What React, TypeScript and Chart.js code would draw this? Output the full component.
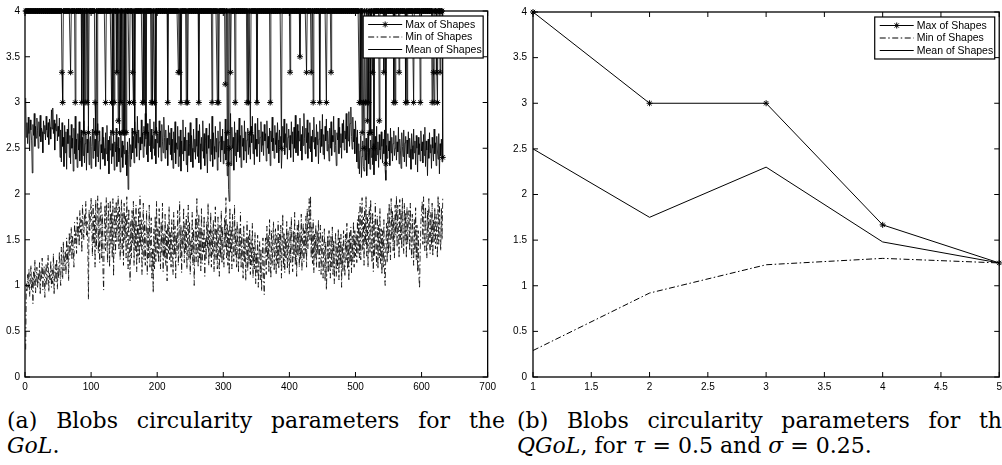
import React, { useEffect, useRef } from "react";
import { Chart, registerables } from "chart.js";

Chart.register(...registerables);

// ---------- Panel (a): GoL, one value per frame ----------
const maxShapesA: number[] = [
  4,4,4,4,4,4,4,4,4,4,4,4,4,4,4,4,4,4,4,4,
  4,4,4,4,4,4,4,4,4,4,4,4,4,4,4,4,4,4,4,4,
  4,4,4,4,4,4,4,4,4,4,4,4,4,4,4,3.33,3,4,4,4,
  4,4,4,4,4,4,4,4,3.33,4,4,4,4,4,4,3,4,4,4,4,
  4,4,4,4,4,3,4,4,2.67,4,3,4,4,3,4,2.67,4,4,4,4,
  4,4,4,4,4,3,2.67,4,2.67,4,4,4,4,4,4,4,4,4,4,4,
  4,3,4,4,4,4,4,4,4,4,3,4,2.67,4,3,4,4,4,3.33,4,
  2.8,4,2.67,4,3,4,2.67,4,2.67,4,2.67,4,2.67,4,4,4,4,3,4,4,
  4,4,3.33,3,4,2.67,4,4,4,4,4,4,4,4,4,4,4,3,4,3,
  4,4,2.67,4,4,4,4,4,4,4,3,4,3,4,4,3,4,2.67,4,4,
  4,4,4,4,4,4,4,4,4,4,4,4,4,4,4,3,4,4,4,4,
  4,4,4,4,4,4,4,4,4,4,4,3.33,4,3.33,4,3,4,4,4,4,
  4,4,4,3,4,3,4,4,4,4,4,4,4,4,4,4,4,4,4,4,
  4,4,3,4,4,4,4,4,4,4,4,4,4,4,4,4,4,4,4,4,
  4,4,3,4,4,4,4,4,4,4,3,4,3,4,4,4,4,4,4,4,
  4,4,3.2,4,4,2.67,4,2.33,2.5,4,3.33,4,4,4,4,4,4,3,4,4,
  4,4,4,4,4,4,4,4,4,4,4,4,4,4,4,3,4,3,4,4,
  2.67,4,4,4,4,4,4,4,4,4,3,4,4,4,4,4,4,4,4,4,
  4,4,4,4,4,4,4,4,4,4,3,4,4,4,4,4,4,4,4,4,
  4,4,4,4,4,4,4,2.5,4,4,4,4,4,4,4,4,4,4,4,4,
  3.33,4,4,4,4,4,4,4,4,4,4,4,4,4,4,3.5,4,4,4,4,
  4,4,4,4,4,3.33,4,4,4,4,4,4,3.33,4,4,3,4,4,4,4,
  4,4,4,4,4,3,4,4,4,4,4,4,4,4,4,3,4,4,4,4,
  4,4,3.33,4,4,4,4,4,4,4,4,4,4,4,4,4,4,4,4,4,
  4,4,4,4,4,4,4,4,4,4,4,4,4,4,4,4,4,4,4,4,
  4,4,4,4,4,3,4,3,4,2.67,4,3,2.5,4,3,3,4,2.8,4,3,
  2.67,4,2.67,4,4,3.33,4,2.5,4,4,4,4,4,4,4,2.8,4,4,4,4,
  4,4,3.33,4,4,2.33,4,4,4,4,4,4,4,4,4,4,4,3,4,3,
  4,4,4,4,4,3.33,4,4,4,4,4,4,4,4,4,3,4,3,4,4,
  4,4,4,4,4,4,4,3,4,4,4,4,4,4,4,4,4,3,4,4,
  4,4,4,4,4,4,4,4,4,4,4,4,4,4,4,3,4,3.33,3,4,
  4,4,3.33,3,4,4,4,3.33,4,4,4,2.4,
];

const minShapesA: number[] = [
  0.3,1.02,0.93,1.12,0.98,1.18,0.88,1.05,1.22,0.95,1.1,0.8,1.15,1.0,1.28,0.92,1.08,1.2,0.97,1.13,
  1.03,1.25,0.9,1.16,1.07,1.3,0.95,1.12,1.21,0.87,1.09,1.24,1.0,1.18,1.33,0.93,1.14,1.06,1.27,0.98,
  1.17,1.02,1.35,0.9,1.11,1.23,1.04,1.29,0.96,1.19,1.08,1.37,1.13,1.0,1.42,1.21,1.07,1.48,1.16,1.3,
  1.38,1.12,1.52,1.25,1.44,1.05,1.58,1.33,1.47,1.64,1.28,1.55,1.4,1.2,1.69,1.46,1.6,1.35,1.75,1.52,
  1.66,1.43,1.82,1.58,1.72,1.36,1.88,1.62,1.5,1.78,1.65,1.92,1.55,1.7,1.45,0.85,1.83,1.6,1.74,1.96,
  1.68,1.32,1.88,1.45,1.77,1.2,1.94,1.4,1.72,1.98,1.35,1.85,1.25,1.69,1.92,1.3,1.78,1.15,0.95,1.64,
  1.88,1.38,1.96,1.5,1.25,1.9,1.6,1.2,1.93,1.45,1.8,1.3,1.95,1.1,1.62,1.85,1.35,1.92,1.48,1.75,
  1.98,1.4,1.86,1.28,1.72,1.94,1.36,1.8,1.22,1.9,1.5,1.76,1.3,1.97,1.58,1.18,1.84,1.4,1.05,1.7,
  1.3,1.82,1.45,1.92,1.22,1.75,1.38,1.88,1.15,1.66,1.32,1.84,1.25,1.98,1.42,1.72,1.12,1.6,1.9,1.28,
  1.7,1.22,1.55,1.82,1.12,1.64,1.3,1.88,1.2,1.52,1.74,1.08,1.4,0.92,1.62,1.18,1.76,1.26,1.92,1.35,
  1.62,1.25,1.84,1.4,1.18,1.7,1.36,1.9,1.15,1.57,1.3,1.78,1.22,1.6,1.05,1.68,1.35,1.86,1.28,1.58,
  1.2,1.72,1.45,1.12,1.8,1.33,1.65,1.08,1.55,1.38,1.82,1.22,1.52,1.92,1.3,1.66,1.14,1.6,1.4,1.85,
  1.25,1.68,1.36,1.76,1.18,1.55,1.88,1.28,1.7,1.12,1.5,1.32,1.8,1.22,1.62,1.0,1.42,1.74,1.26,1.95,
  1.48,1.2,1.78,1.3,1.64,1.16,1.84,1.24,1.58,1.35,1.76,1.1,1.52,1.28,1.7,1.4,1.9,1.22,1.6,1.32,
  1.8,1.2,1.6,1.34,1.72,1.15,1.5,1.86,1.28,1.62,1.18,1.75,1.38,1.1,1.66,1.3,1.82,1.24,1.64,1.36,
  1.2,1.74,1.42,1.96,1.3,1.68,1.22,1.6,1.12,1.85,1.35,1.64,1.18,1.78,1.4,1.26,1.88,1.32,1.62,1.2,
  1.7,1.36,1.14,1.62,1.28,1.8,1.2,1.56,1.34,1.08,1.66,1.25,1.52,1.05,1.4,1.7,1.16,1.55,1.24,1.62,
  1.12,1.5,1.22,1.68,1.08,1.42,1.18,1.58,1.02,1.36,1.14,1.55,0.98,1.32,1.48,1.06,1.4,0.94,1.26,1.52,
  1.05,0.9,1.34,1.52,1.12,1.65,1.28,1.56,1.14,1.72,1.3,1.08,1.6,1.22,1.5,1.7,1.16,1.46,1.62,1.12,
  1.55,1.24,1.7,1.18,1.56,1.28,1.66,1.08,1.44,1.78,1.2,1.58,1.14,1.52,1.3,1.7,1.18,1.6,1.36,1.12,
  1.64,1.25,1.75,1.36,1.15,1.6,1.3,1.8,1.22,1.55,1.1,1.66,1.32,1.72,1.2,1.58,1.28,1.78,1.16,1.52,
  1.68,1.26,1.6,1.35,1.76,1.2,1.84,1.4,1.62,1.95,1.5,1.98,1.3,1.64,1.24,1.72,1.14,1.56,1.3,1.66,
  1.2,1.6,1.34,1.72,1.16,1.5,1.66,1.12,1.44,1.58,1.08,1.42,1.62,1.05,1.48,0.95,1.22,1.55,1.14,1.6,
  1.26,1.08,1.55,1.2,1.64,1.12,1.5,1.02,1.42,1.58,1.1,1.46,1.18,1.62,1.06,1.52,1.22,1.56,0.98,1.45,
  1.15,1.6,1.24,1.1,1.56,1.28,1.68,1.18,1.5,1.05,1.58,1.25,1.64,1.14,1.54,1.26,1.7,1.2,1.6,1.32,
  1.56,1.25,1.72,1.35,1.8,1.3,1.9,1.28,1.66,1.96,1.38,1.75,1.22,1.85,1.45,1.98,1.32,1.78,1.2,1.7,
  1.86,1.35,1.94,1.48,1.25,1.8,1.15,1.7,1.32,1.9,1.45,1.22,1.76,1.18,1.66,1.3,1.84,1.24,1.62,1.12,
  1.6,1.2,1.72,1.08,1.0,1.42,1.68,1.25,1.8,1.35,1.9,1.45,1.28,1.95,1.5,1.82,1.38,1.74,1.3,1.88,
  1.55,1.98,1.42,1.88,1.6,1.3,1.94,1.5,1.82,1.4,1.96,1.55,1.35,1.9,1.48,1.8,1.3,1.86,1.45,1.72,
  1.82,1.38,1.9,1.5,1.3,1.78,1.45,1.22,1.72,1.36,1.85,1.28,1.66,1.15,1.6,1.1,0.97,1.4,1.7,1.8,
  1.92,1.45,1.97,1.55,1.38,1.86,1.5,1.3,1.82,1.44,1.95,1.5,1.35,1.8,1.42,1.9,1.32,1.72,1.48,1.85,
  1.4,1.78,1.5,1.3,1.98,1.45,1.9,1.55,1.38,1.85,1.5,1.95,
];

const meanShapesA: number[] = [
  3.05,2.62,2.78,2.55,2.84,2.66,2.47,2.81,2.7,2.58,2.23,2.76,2.64,2.88,2.52,2.74,2.61,2.83,2.69,2.5,
  2.79,2.63,2.86,2.57,2.72,2.68,2.45,2.8,2.66,2.75,2.59,2.85,2.7,2.62,2.78,2.54,2.82,2.73,2.6,2.92,
  2.71,2.94,2.66,2.81,2.48,2.77,2.69,2.87,2.58,2.74,2.63,2.83,2.4,2.7,2.35,2.78,2.52,2.62,2.3,2.75,
  2.45,2.68,2.27,2.71,2.55,2.82,2.4,2.64,2.33,2.76,2.5,2.61,2.25,2.72,2.44,2.85,2.38,2.6,2.29,2.66,
  2.48,2.79,2.36,2.58,2.7,2.3,2.62,2.42,2.8,2.34,2.55,2.68,2.26,2.6,2.45,2.74,2.32,2.57,2.63,2.28,
  2.52,2.71,2.39,2.83,2.47,2.6,2.3,2.66,2.41,2.77,2.35,2.58,2.69,2.27,2.54,2.45,2.73,2.38,2.62,2.5,
  2.31,2.67,2.44,2.75,2.36,2.59,2.22,2.63,2.48,2.7,2.33,2.55,2.41,2.68,2.26,2.57,2.46,2.72,2.3,2.52,
  2.62,2.35,2.5,2.24,2.66,2.4,2.58,2.29,2.53,2.44,2.69,2.32,2.48,2.2,2.57,2.05,2.43,2.61,2.3,2.54,
  2.38,2.72,2.45,2.63,2.34,2.79,2.5,2.66,2.41,2.85,2.56,2.7,2.37,2.62,2.48,2.81,2.55,2.67,2.4,2.74,
  2.52,2.88,2.6,2.43,2.77,2.35,2.68,2.53,2.82,2.46,2.71,2.38,2.64,2.5,2.79,2.42,2.6,2.33,2.73,2.56,
  2.66,2.4,2.8,2.51,2.69,2.36,2.76,2.57,2.45,2.84,2.62,2.39,2.7,2.48,2.61,2.31,2.75,2.54,2.67,2.43,
  2.72,2.37,2.6,2.28,2.68,2.45,2.79,2.33,2.56,2.49,2.74,2.3,2.63,2.41,2.7,2.25,2.58,2.44,2.81,2.36,
  2.62,2.47,2.73,2.32,2.59,2.24,2.67,2.42,2.55,2.78,2.35,2.64,2.5,2.29,2.71,2.46,2.6,2.38,2.83,2.52,
  2.41,2.69,2.34,2.76,2.55,2.27,2.62,2.47,2.8,2.39,2.66,2.31,2.58,2.72,2.44,2.23,2.64,2.5,2.77,2.36,
  2.6,2.43,2.85,2.3,2.67,2.52,2.38,2.74,2.46,2.61,2.26,2.69,2.4,2.57,2.79,2.35,2.63,2.48,2.71,2.33,
  2.58,2.44,2.82,2.37,2.66,2.2,2.6,2.05,1.92,2.48,2.88,2.31,2.73,2.5,2.62,2.26,2.79,2.42,2.67,2.35,
  2.7,2.46,2.58,2.83,2.4,2.64,2.29,2.75,2.52,2.61,2.37,2.8,2.47,2.68,2.34,2.59,2.72,2.43,2.66,2.51,
  2.38,2.74,2.56,2.85,2.44,2.65,2.32,2.77,2.49,2.6,2.41,2.83,2.55,2.7,2.35,2.62,2.79,2.46,2.68,2.53,
  2.42,2.76,2.58,2.66,2.36,2.8,2.5,2.63,2.44,2.72,2.31,2.69,2.57,2.84,2.47,2.61,2.39,2.75,2.54,2.67,
  2.45,2.78,2.59,2.34,2.7,2.52,2.63,2.28,2.47,2.74,2.56,2.82,2.43,2.66,2.51,2.77,2.38,2.62,2.71,2.48,
  2.64,2.4,2.79,2.55,2.68,2.35,2.73,2.5,2.86,2.45,2.6,2.76,2.42,2.69,2.58,2.83,2.47,2.65,2.37,2.74,
  2.53,2.88,2.61,2.44,2.72,2.56,2.81,2.39,2.67,2.5,2.78,2.46,2.63,2.35,2.7,2.57,2.84,2.49,2.62,2.41,
  2.76,2.54,2.68,2.33,2.6,2.8,2.45,2.71,2.52,2.87,2.43,2.65,2.38,2.74,2.58,2.82,2.47,2.69,2.55,2.36,
  2.72,2.5,2.79,2.42,2.64,2.57,2.85,2.46,2.7,2.53,2.31,2.67,2.59,2.83,2.44,2.73,2.51,2.66,2.39,2.77,
  2.56,2.81,2.48,2.69,2.6,2.88,2.45,2.74,2.58,2.9,2.52,2.77,2.95,2.63,2.49,2.84,2.57,2.71,2.44,2.8,
  2.62,2.35,2.7,2.28,2.55,2.22,2.47,2.64,2.18,2.41,2.58,2.3,2.25,2.52,2.37,2.61,2.2,2.45,2.66,2.33,
  2.5,2.27,2.59,2.4,2.71,2.32,2.55,2.21,2.47,2.63,2.36,2.74,2.43,2.57,2.29,2.65,2.48,2.38,2.68,2.52,
  2.34,2.6,2.44,2.7,2.26,2.15,2.53,2.39,2.66,2.47,2.58,2.31,2.72,2.45,2.62,2.36,2.55,2.69,2.42,2.5,
  2.64,2.37,2.57,2.46,2.73,2.33,2.6,2.48,2.28,2.67,2.52,2.41,2.7,2.35,2.56,2.63,2.3,2.59,2.44,2.68,
  2.4,2.61,2.49,2.27,2.66,2.53,2.38,2.71,2.45,2.58,2.32,2.64,2.5,2.24,2.62,2.43,2.55,2.36,2.69,2.47,
  2.57,2.34,2.65,2.42,2.73,2.3,2.58,2.48,2.2,2.6,2.39,2.67,2.45,2.54,2.28,2.62,2.5,2.36,2.71,2.44,
  2.56,2.31,2.63,2.47,2.38,2.66,2.22,2.55,2.42,2.6,2.35,2.4,
];

const xTicksA = [0, 100, 200, 300, 400, 500, 600, 700];

// ---------- Panel (b): QGoL ----------
const stepsB = [1, 2, 3, 4, 5];
const maxShapesB = [4, 3, 3, 1.667, 1.25];
const minShapesB = [0.29, 0.92, 1.23, 1.3, 1.25];
const meanShapesB = [2.5, 1.75, 2.3, 1.48, 1.25];
const xTicksB = [1, 1.5, 2, 2.5, 3, 3.5, 4, 4.5, 5];

const yTicks = [0, 0.5, 1, 1.5, 2, 2.5, 3, 3.5, 4];
const seriesLabels = ["Max of Shapes", "Min of Shapes", "Mean of Shapes"];

const DASH_DOT = [6, 2.5, 1.5, 2.5];
const TICK_FONT = "'Liberation Sans', Arial, Helvetica, sans-serif";

function drawStar(ctx: CanvasRenderingContext2D, x: number, y: number, r: number) {
  ctx.beginPath();
  ctx.moveTo(x - r, y); ctx.lineTo(x + r, y);
  ctx.moveTo(x, y - r); ctx.lineTo(x, y + r);
  const d = r * 0.7071;
  ctx.moveTo(x - d, y - d); ctx.lineTo(x + d, y + d);
  ctx.moveTo(x - d, y + d); ctx.lineTo(x + d, y - d);
  ctx.stroke();
}

const framePlugin = {
  id: "matlabFrame",
  afterDraw(chart: any) {
    const { ctx, chartArea: a, scales } = chart;
    const L = a.left, R = a.right, T = a.top, B = a.bottom;
    ctx.save();
    ctx.strokeStyle = "#000";
    ctx.lineWidth = 1;
    ctx.setLineDash([]);
    ctx.beginPath();
    for (const t of scales.x.ticks) {
      const px = scales.x.getPixelForValue(t.value);
      ctx.moveTo(px, B); ctx.lineTo(px, B - 5);
      ctx.moveTo(px, T); ctx.lineTo(px, T + 5);
    }
    for (const t of scales.y.ticks) {
      const py = scales.y.getPixelForValue(t.value);
      ctx.moveTo(L, py); ctx.lineTo(L + 5, py);
      ctx.moveTo(R, py); ctx.lineTo(R - 5, py);
    }
    ctx.stroke();
    ctx.lineWidth = 1.3;
    ctx.strokeRect(L, T, R - L, B - T);

    // legend box (top-right, inside the axes)
    const w = 120, h = 42;
    const left = R - 4.5 - w;
    const top = T + 5;
    ctx.fillStyle = "#fff";
    ctx.fillRect(left, top, w, h);
    ctx.lineWidth = 1.2;
    ctx.strokeRect(left, top, w, h);
    ctx.font = `10.5px ${TICK_FONT}`;
    ctx.textBaseline = "middle";
    ctx.textAlign = "left";
    const rows = [8.5, 21, 33.5];
    chart.data.datasets.forEach((ds: any, i: number) => {
      const y = top + rows[i];
      ctx.lineWidth = 1;
      ctx.strokeStyle = "#000";
      ctx.setLineDash(ds.borderDash || []);
      ctx.beginPath();
      ctx.moveTo(left + 5, y);
      ctx.lineTo(left + 39, y);
      ctx.stroke();
      ctx.setLineDash([]);
      if (ds.pointRadius > 0) drawStar(ctx, left + 22, y, 3);
      ctx.fillStyle = "#000";
      ctx.fillText(ds.label, left + 42, y + 0.5);
    });
    ctx.restore();
  },
};

function buildDatasets(xs: number[], maxV: number[], minV: number[], meanV: number[], lw: number) {
  const pts = (arr: number[]) => arr.map((v, i) => ({ x: xs[i], y: v }));
  return [
    {
      label: seriesLabels[0],
      data: pts(maxV),
      borderColor: "#000",
      borderWidth: lw,
      pointStyle: "star",
      pointRadius: 3,
      pointBorderColor: "#000",
      pointBackgroundColor: "#000",
      pointBorderWidth: 1,
      tension: 0,
      clip: false,
    },
    {
      label: seriesLabels[1],
      data: pts(minV),
      borderColor: "#000",
      borderWidth: lw,
      borderDash: DASH_DOT,
      pointRadius: 0,
      tension: 0,
      clip: false,
    },
    {
      label: seriesLabels[2],
      data: pts(meanV),
      borderColor: "#000",
      borderWidth: lw,
      pointRadius: 0,
      tension: 0,
      clip: false,
    },
  ];
}

type PanelProps = {
  left: number;
  width: number;
  height: number;
  xs: number[];
  maxV: number[];
  minV: number[];
  meanV: number[];
  xTicks: number[];
  yAxisWidth: number;
  xAxisHeight: number;
  padRight: number;
  padTop: number;
  yLabelPad: number;
  lineWidth: number;
};

function Panel(p: PanelProps) {
  const ref = useRef<HTMLCanvasElement | null>(null);
  useEffect(() => {
    if (!ref.current) return;
    const chart = new Chart(ref.current, {
      type: "line",
      data: { datasets: buildDatasets(p.xs, p.maxV, p.minV, p.meanV, p.lineWidth) as any },
      options: {
        animation: false,
        responsive: false,
        devicePixelRatio: 1,
        events: [],
        layout: { padding: { left: 0, right: p.padRight, top: p.padTop, bottom: 0 } },
        plugins: { legend: { display: false }, tooltip: { enabled: false } },
        scales: {
          x: {
            type: "linear",
            min: p.xTicks[0],
            max: p.xTicks[p.xTicks.length - 1],
            grid: { display: false, drawTicks: false },
            border: { display: false },
            ticks: {
              color: "#000",
              font: { family: TICK_FONT, size: 10 },
              padding: 4,
              maxRotation: 0,
              autoSkip: false,
              callback: (v: any) => String(v),
            },
            afterBuildTicks: (s: any) => {
              s.ticks = p.xTicks.map((v) => ({ value: v }));
            },
            afterFit: (s: any) => {
              s.height = p.xAxisHeight;
            },
          },
          y: {
            type: "linear",
            min: yTicks[0],
            max: yTicks[yTicks.length - 1],
            grid: { display: false, drawTicks: false },
            border: { display: false },
            ticks: {
              color: "#000",
              font: { family: TICK_FONT, size: 10 },
              padding: p.yLabelPad,
              autoSkip: false,
              callback: (v: any) => String(v),
            },
            afterBuildTicks: (s: any) => {
              s.ticks = yTicks.map((v) => ({ value: v }));
            },
            afterFit: (s: any) => {
              s.width = p.yAxisWidth;
            },
          },
        },
      } as any,
      plugins: [framePlugin],
    });
    return () => chart.destroy();
  }, []);
  return (
    <canvas
      ref={ref}
      width={p.width}
      height={p.height}
      style={{ position: "absolute", left: p.left, top: 0, width: p.width, height: p.height }}
    />
  );
}

const captionFont: React.CSSProperties = {
  fontFamily: "'DejaVu Serif', serif",
  fontSize: 22,
  lineHeight: "25px",
  color: "#000",
  position: "absolute",
  width: 498,
  whiteSpace: "normal",
};

export default function App() {
  const framesA = meanShapesA.map((_, i) => i + 1);
  return (
    <div
      style={{
        position: "absolute",
        left: 0,
        top: 0,
        width: 1002,
        height: 465,
        overflow: "hidden",
        background: "#fff",
      }}
    >
      <Panel
        left={0}
        width={500}
        height={400}
        xs={framesA}
        maxV={maxShapesA}
        minV={minShapesA}
        meanV={meanShapesA}
        xTicks={xTicksA}
        yAxisWidth={25}
        xAxisHeight={23}
        padRight={9}
        padTop={8}
        yLabelPad={5}
        lineWidth={0.8}
      />
      <Panel
        left={500}
        width={506}
        height={400}
        xs={stepsB}
        maxV={maxShapesB}
        minV={minShapesB}
        meanV={meanShapesB}
        xTicks={xTicksB}
        yAxisWidth={33}
        xAxisHeight={23}
        padRight={6}
        padTop={6}
        yLabelPad={6}
        lineWidth={1}
      />
      <div style={{ ...captionFont, left: 7, top: 408 }}>
        <div style={{ textAlign: "justify", textAlignLast: "justify" }}>
          (a) Blobs circularity parameters for the
        </div>
        <div>
          <i>GoL</i>.
        </div>
      </div>
      <div style={{ ...captionFont, left: 517, top: 408 }}>
        <div style={{ textAlign: "justify", textAlignLast: "justify" }}>
          (b) Blobs circularity parameters for the
        </div>
        <div>
          <i>QGoL</i>, for <i>τ</i> = 0.5 and <i>σ</i> = 0.25.
        </div>
      </div>
    </div>
  );
}
